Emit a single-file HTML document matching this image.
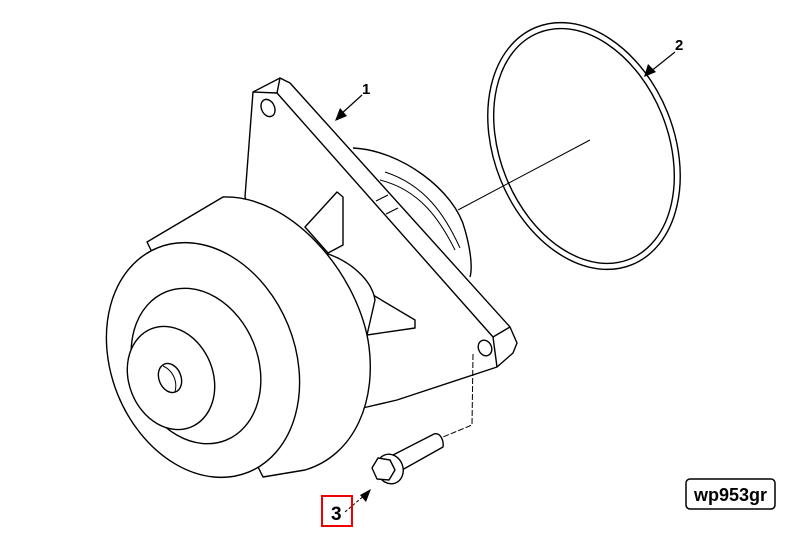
<!DOCTYPE html>
<html><head><meta charset="utf-8"><style>
html,body{margin:0;padding:0;background:#fff;}
svg{display:block;}
text{font-family:"Liberation Sans",sans-serif;font-weight:bold;}
</style></head><body>
<svg width="800" height="533" viewBox="0 0 800 533" xmlns="http://www.w3.org/2000/svg">
<g fill="none" stroke="#000" stroke-width="1.4" stroke-linejoin="round">
 <ellipse cx="584" cy="146" rx="90" ry="128" transform="rotate(-22 584 146)"/>
 <ellipse cx="584" cy="146" rx="84" ry="122" transform="rotate(-22 584 146)"/>
 <line x1="590" y1="140" x2="458" y2="210" stroke-width="1"/>
 <path d="M353,148 C400,150 455,190 465,230 C472,255 472,270 470,277" fill="#fff"/>
 <path d="M380,180 C420,190 440,220 455,250" stroke-width="1"/>
 <path d="M385,172 C425,185 445,215 460,248" stroke-width="1"/>
 <path d="M253,92 L280,78 L290,83 L510,327 L517,343 L513,353 L497,367 L397,400 L367,407 L300,420 L245,197 Z" fill="#fff"/>
 <path d="M277,93 L493,337 L497,367" />
 <path d="M253,92 L277,93 L280,78"/>
 <path d="M493,337 L510,327"/>
 <path d="M376,201 L388,195 M386,214 L398,208" stroke-width="1.2"/>
 <ellipse cx="268" cy="108" rx="6.5" ry="9" transform="rotate(-25 268 108)" fill="#fff"/>
 <ellipse cx="485" cy="348" rx="6.5" ry="8" transform="rotate(-25 485 348)" fill="#fff"/>
 <path d="M305,227 L337,192 L343,197 L343,245 L328,253 Z" fill="#fff"/>
 <path d="M357,305 L373,295 L415,320 L415,328 L367,335 Z" fill="#fff"/>
 <path d="M322,252 C350,260 372,280 375,300 L367,335" fill="#fff"/>
 <path d="M147,242 L223,197 C290,195 355,270 368,340 C378,400 355,455 305,470 L263,477 Z" fill="#fff"/>
 <ellipse cx="203" cy="360" rx="92" ry="121" transform="rotate(-22 203 360)" fill="#fff"/>
 <ellipse cx="196" cy="366" rx="62" ry="80" transform="rotate(-22 196 366)" fill="#fff"/>
 <ellipse cx="171" cy="378" rx="42" ry="53" transform="rotate(-22 171 378)" fill="#fff"/>
 <ellipse cx="170" cy="378" rx="11" ry="15" transform="rotate(-22 170 378)" fill="#fff"/>
 <path d="M163,366 C172,370 178,380 175,392" stroke-width="1"/>
 <path d="M473,354 L472,425 L443,437" stroke-width="1" stroke-dasharray="6,2"/>
 <path d="M393,455 L434,434 C440,432 444,440 443,447 L402,470" fill="#fff"/>
 <ellipse cx="390" cy="469" rx="13" ry="15" transform="rotate(-20 390 469)" fill="#fff"/>
 <polygon points="372,468 378,458 390,460 395,470 389,480 377,479" fill="#fff"/>
 <line x1="362" y1="95" x2="340" y2="115" stroke-width="1.2"/>
 <line x1="675" y1="52" x2="650" y2="72" stroke-width="1.2"/>
 <line x1="345" y1="512" x2="366" y2="494" stroke-width="1" stroke-dasharray="3,2"/>
</g>
<g fill="#000">
 <polygon points="335,121 340,108 347,116"/>
 <polygon points="644,77 648,64 656,72"/>
 <polygon points="371,489 360,495 366,502"/>
</g>
<text x="362" y="94" font-size="15">1</text>
<text x="675" y="50" font-size="15">2</text>
<rect x="322" y="496" width="30" height="30" fill="none" stroke="#e00" stroke-width="2"/>
<text x="331" y="520" font-size="19">3</text>
<rect x="686" y="479" width="89" height="30" rx="4" fill="#fff" stroke="#000" stroke-width="1.5"/>
<text x="730.5" y="501" font-size="18" text-anchor="middle">wp953gr</text>
</svg>
</body></html>
